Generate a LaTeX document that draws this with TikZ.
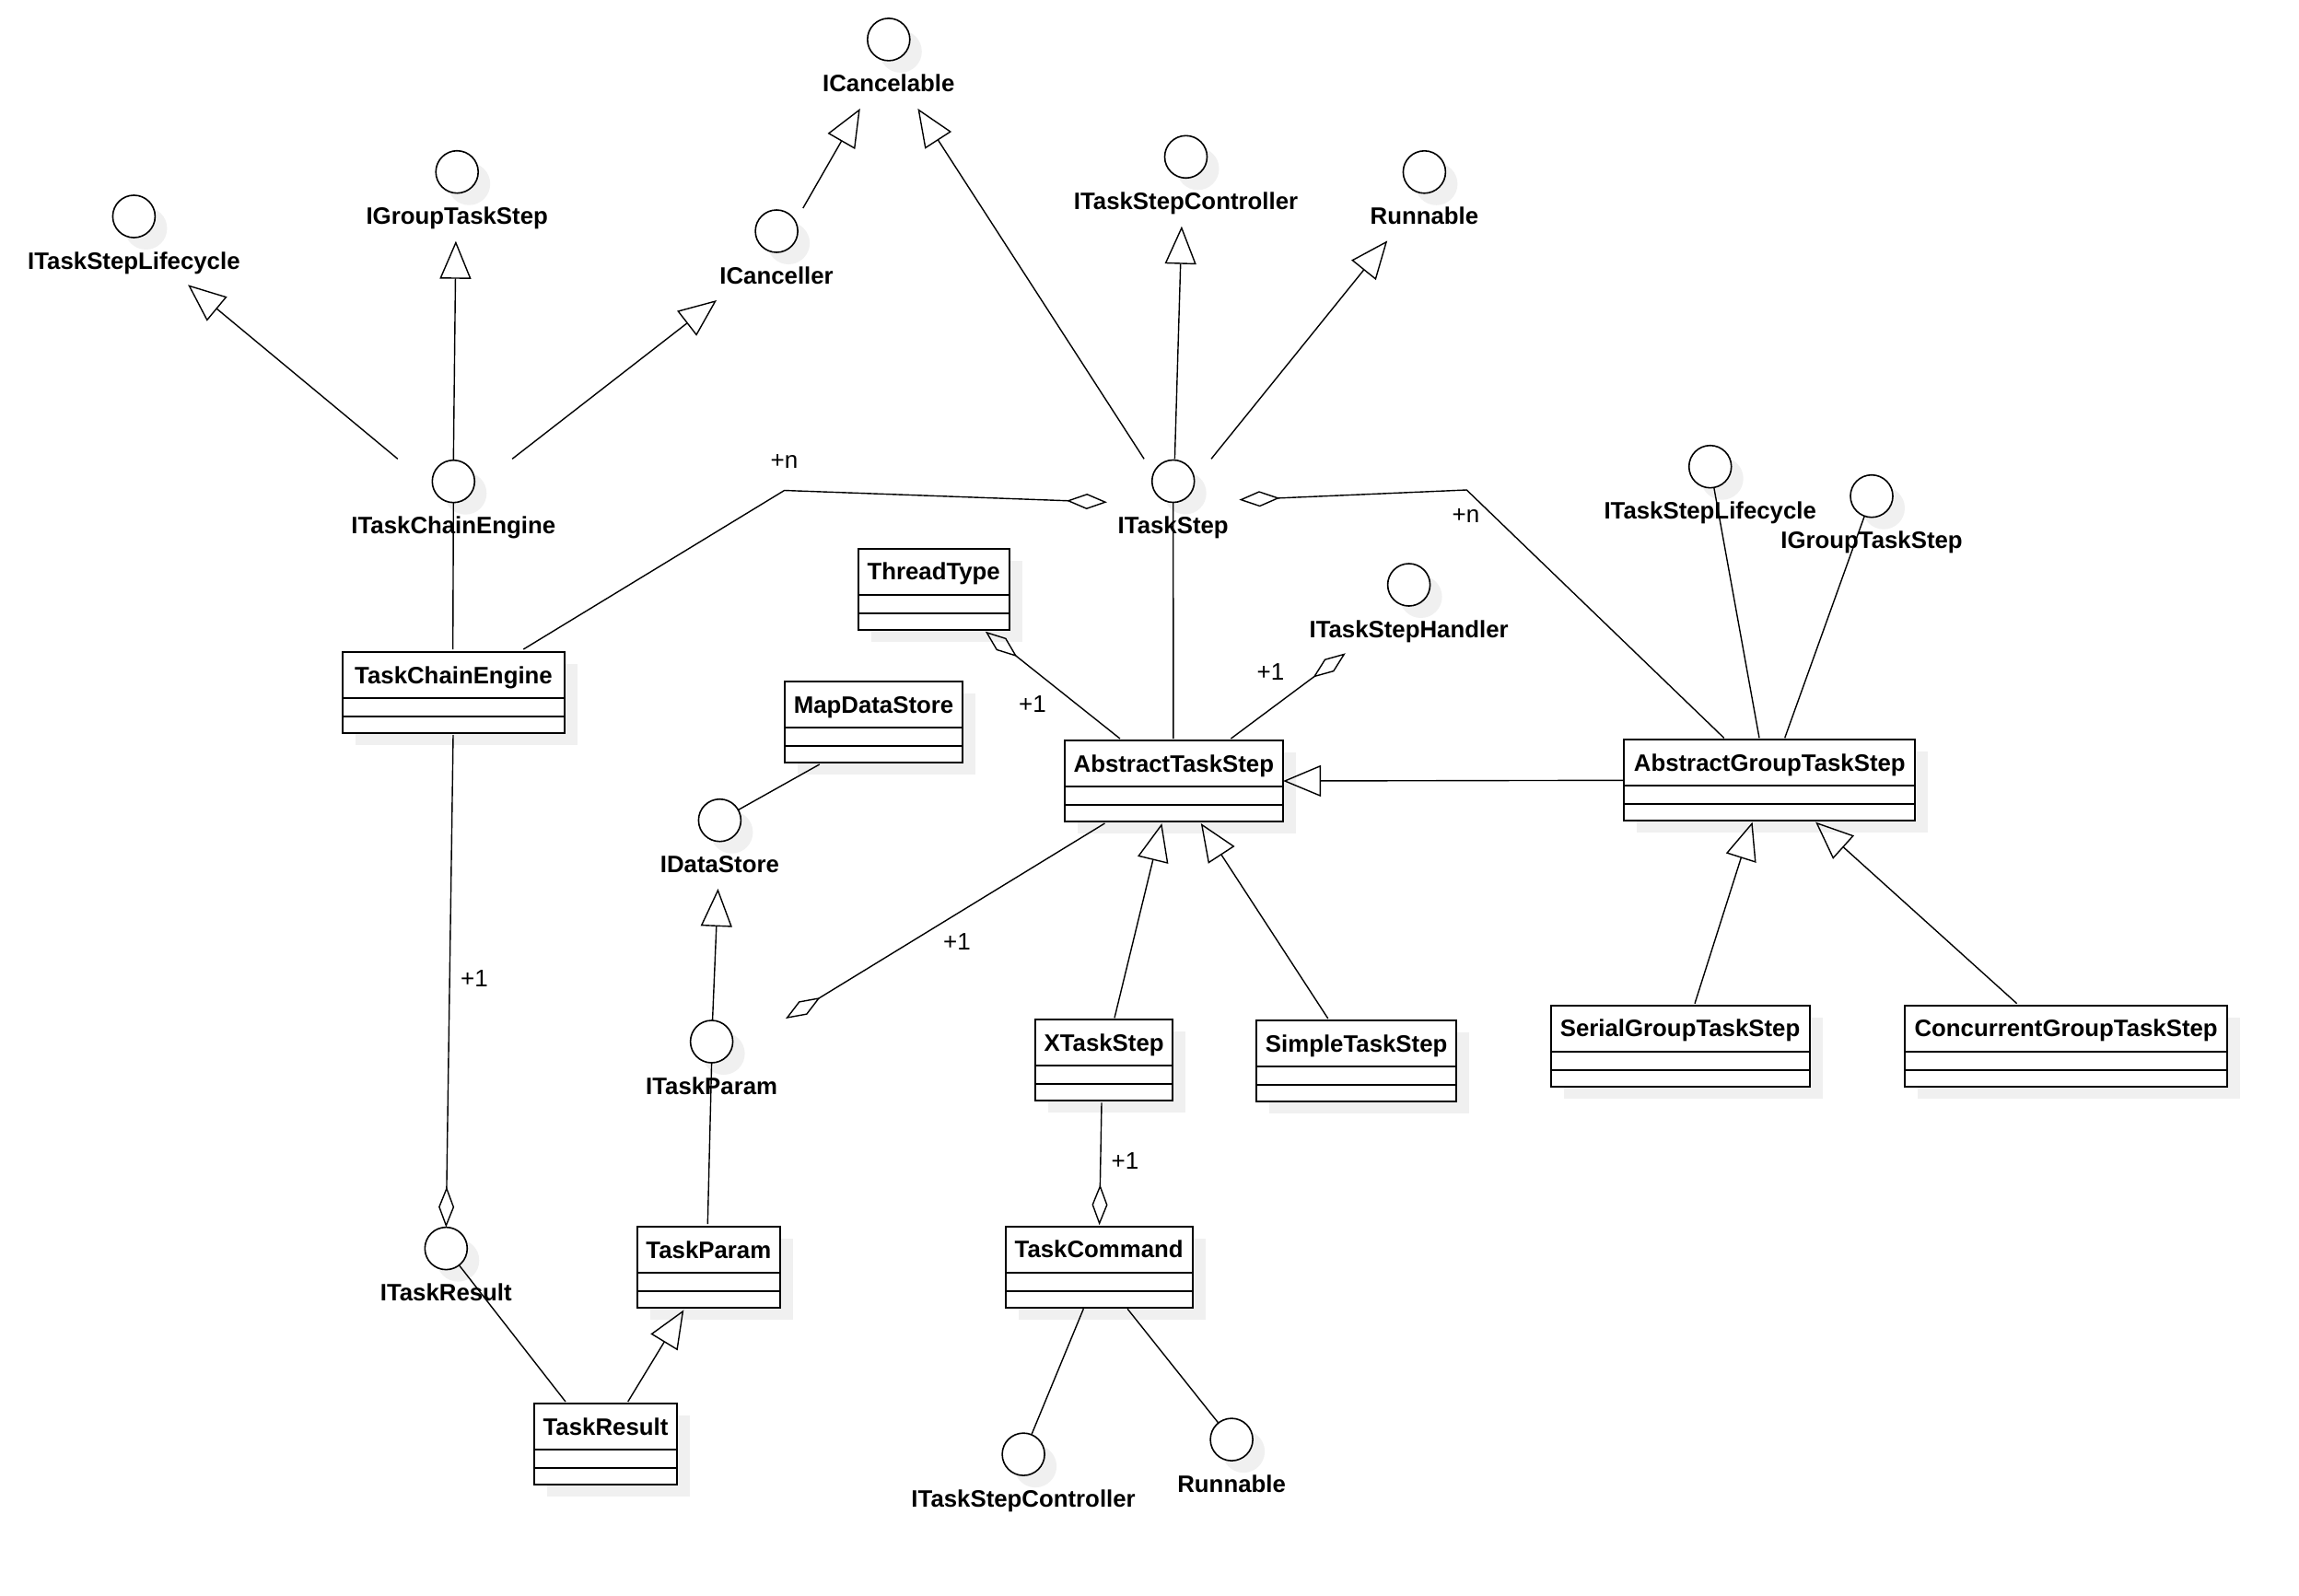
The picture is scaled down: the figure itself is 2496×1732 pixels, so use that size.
\documentclass[tikz,border=0pt]{standalone}
\usepackage{fontspec}
\setmainfont{Liberation Sans}
\usetikzlibrary{arrows.meta,calc}
\tikzset{
  shadowc/.style={fill=black!6},
  classbox/.style={draw, line width=2pt, fill=white, rectangle, inner sep=0pt, outer sep=0pt},
  divider/.style={line width=2pt},
  classname/.style={font=\fontsize{25.8}{30}\selectfont\bfseries, inner sep=0pt},
  ifc/.style={draw, circle, line width=1.6pt, fill=white, minimum size=46pt, inner sep=0pt, outer sep=0pt},
  iname/.style={font=\fontsize{25.8}{30}\selectfont\bfseries, inner sep=0pt},
  mult/.style={font=\fontsize{26}{30}\selectfont, inner sep=0pt},
  conn/.style={line width=1.4pt},
  gen/.style={conn, -{Triangle[open, length=41pt, width=34pt]}},
  agg/.style={conn, -{Diamond[open, length=44pt, width=17pt]}},
}
\newcommand\umlclass[5]{%
  \fill[shadowc] (#2+14,#3+13) rectangle (#4+14,#3+101);
  \node[classbox, minimum width={#4-#2}, minimum height=88, anchor=north west] (#1) at (#2,#3) {};
  \draw[divider] ($(#1.north west)+(0,50)$) -- ($(#1.north east)+(0,50)$);
  \draw[divider] ($(#1.north west)+(0,70)$) -- ($(#1.north east)+(0,70)$);
  \node[classname, anchor=base] (#1-l) at ($(#1.north)+(0,34)$) {#5};
}
\newcommand\iface[4]{%
  \fill[shadowc] (#2+13,#3+13) circle (23);
  \node[ifc] (#1) at (#2,#3) {};
  \node[iname, anchor=base] (#1-l) at (#2,#3+57) {#4};
}
\begin{document}
\begin{tikzpicture}[x=1pt,y=-1pt]
\useasboundingbox (0,0) rectangle (2496,1732);
\fill[white] (0,0) rectangle (2496,1732);

% interfaces
\iface{isl1}{145.4}{235}{ITaskStepLifecycle}
\iface{igts1}{496.2}{186.7}{IGroupTaskStep}
\iface{icr}{843.1}{251}{ICanceller}
\iface{icl}{964.8}{42.9}{ICancelable}
\iface{itce}{492.3}{522.7}{ITaskChainEngine}
\iface{itsc1}{1287.5}{170.3}{ITaskStepController}
\iface{run1}{1546.4}{186.8}{Runnable}
\iface{its}{1273.7}{522.5}{ITaskStep}
\iface{itsh}{1529.6}{635}{ITaskStepHandler}
\iface{isl2}{1856.7}{506.7}{ITaskStepLifecycle}
\iface{igts2}{2032}{538.7}{IGroupTaskStep}
\iface{ids}{781.4}{890.7}{IDataStore}
\iface{itp}{772.6}{1131}{ITaskParam}
\iface{itr}{484.3}{1355.6}{ITaskResult}
\iface{itsc2}{1111.1}{1579.1}{ITaskStepController}
\iface{run2}{1337.1}{1563.1}{Runnable}

% classes
\umlclass{tce}{371.7}{708}{613.3}{TaskChainEngine}
\umlclass{tt}{931.8}{595.7}{1095.5}{ThreadType}
\umlclass{mds}{851.8}{740}{1045.3}{MapDataStore}
\umlclass{ats}{1155.6}{804}{1393.1}{AbstractTaskStep}
\umlclass{agts}{1763.3}{803.3}{2079.3}{AbstractGroupTaskStep}
\umlclass{xts}{1124}{1107.3}{1273.2}{XTaskStep}
\umlclass{sts}{1363.9}{1108}{1581.4}{SimpleTaskStep}
\umlclass{sgts}{1683.5}{1091.7}{1964.6}{SerialGroupTaskStep}
\umlclass{cgts}{2068.2}{1091.7}{2418}{ConcurrentGroupTaskStep}
\umlclass{tp}{692}{1332}{846.7}{TaskParam}
\umlclass{tr}{580}{1524}{735}{TaskResult}
\umlclass{tc}{1091.8}{1331.7}{1294.6}{TaskCommand}

% bend points
\coordinate (bendL) at (851.6,532.5);
\coordinate (bendR) at (1592.3,532);

% generalizations
\draw[gen] ($(itce)+(-60.5,-24.4)$) -- ($(isl1)+(58.7,74.3)$);
\draw[gen] (itce.north) -- ($(igts1)+(-1.3,75)$);
\draw[gen] ($(itce)+(63.8,-24.4)$) -- ($(icr)+(-65.1,75)$);
\draw[gen] ($(icr)+(28.7,-25)$) -- ($(icl)+(-31,75)$);
\draw[gen] ($(its)+(-31.6,-24.2)$) -- ($(icl)+(31.6,75)$);
\draw[gen] ($(its)+(1.7,-24.2)$) -- ($(itsc1)+(-4.6,75.4)$);
\draw[gen] ($(its)+(41.3,-24.2)$) -- ($(run1)+(-40.2,74.6)$);
\draw[gen] (agts.west) -- (ats.east);
\draw[gen] ($(xts.north west)+(86,-2)$) -- ($(ats.south west)+(105.8,2)$);
\draw[gen] ($(sts.north west)+(77.9,-2)$) -- ($(ats.south west)+(148.2,2)$);
\draw[gen] ($(sgts.north west)+(156.5,-2)$) -- ($(agts.south west)+(139.3,1.3)$);
\draw[gen] ($(cgts.north west)+(121.5,-2)$) -- ($(agts.south west)+(207.8,1.3)$);
\draw[gen] (itp) -- ($(ids)+(-1.9,74.3)$);
\draw[gen] ($(tr.north west)+(101.7,-2)$) -- ($(tp.south west)+(50.3,2.4)$);

% aggregations
\draw[agg] ($(tce.north west)+(196.6,-3)$) -- (bendL) -- ($(its)+(-71.8,22.8)$);
\draw[agg] ($(agts.north west)+(108.4,-2)$) -- (bendR) -- ($(its)+(71.7,20.2)$);
\draw[agg] ($(ats.north west)+(60.3,-2)$) -- ($(tt.south west)+(138,2)$);
\draw[agg] ($(ats.north west)+(180.8,-2)$) -- ($(itsh)+(-68.8,74.3)$);
\draw[agg] ($(ats.south west)+(43.8,2)$) -- ($(itp)+(80.4,-25)$);
\draw[agg] ($(tce.south west)+(120.3,2)$) -- (itr.north);
\draw[agg] ($(xts.south west)+(72,2)$) -- ($(tc.north west)+(101.8,-1.5)$);

% plain associations
\draw[conn] (itce.south) -- ($(tce.north west)+(120,-3)$);
\draw[conn] (its.south) -- ($(ats.north west)+(118.3,-2)$);
\draw[conn] ($(mds.south west)+(37.9,2)$) -- (ids);
\draw[conn] ($(agts.north west)+(146.7,-2)$) -- (isl2);
\draw[conn] ($(agts.north west)+(174.4,-2)$) -- (igts2);
\draw[conn] (itp.south) -- ($(tp.north west)+(76.3,-3)$);
\draw[conn] (itr) -- ($(tr.north west)+(34,-2)$);
\draw[conn] ($(tc.south west)+(84.5,1.5)$) -- (itsc2);
\draw[conn] ($(tc.south west)+(132.3,1.5)$) -- (run2);

% multiplicities
\node[mult] (m1) at (851.5,501) {+n};
\node[mult] (m2) at (1591.5,560) {+n};
\node[mult] (m3) at (1121,765) {+1};
\node[mult] (m4) at (1379.4,729.5) {+1};
\node[mult] (m5) at (1039,1023) {+1};
\node[mult] (m6) at (515,1062.5) {+1};
\node[mult] (m7) at (1221.5,1261) {+1};
\end{tikzpicture}
\end{document}
